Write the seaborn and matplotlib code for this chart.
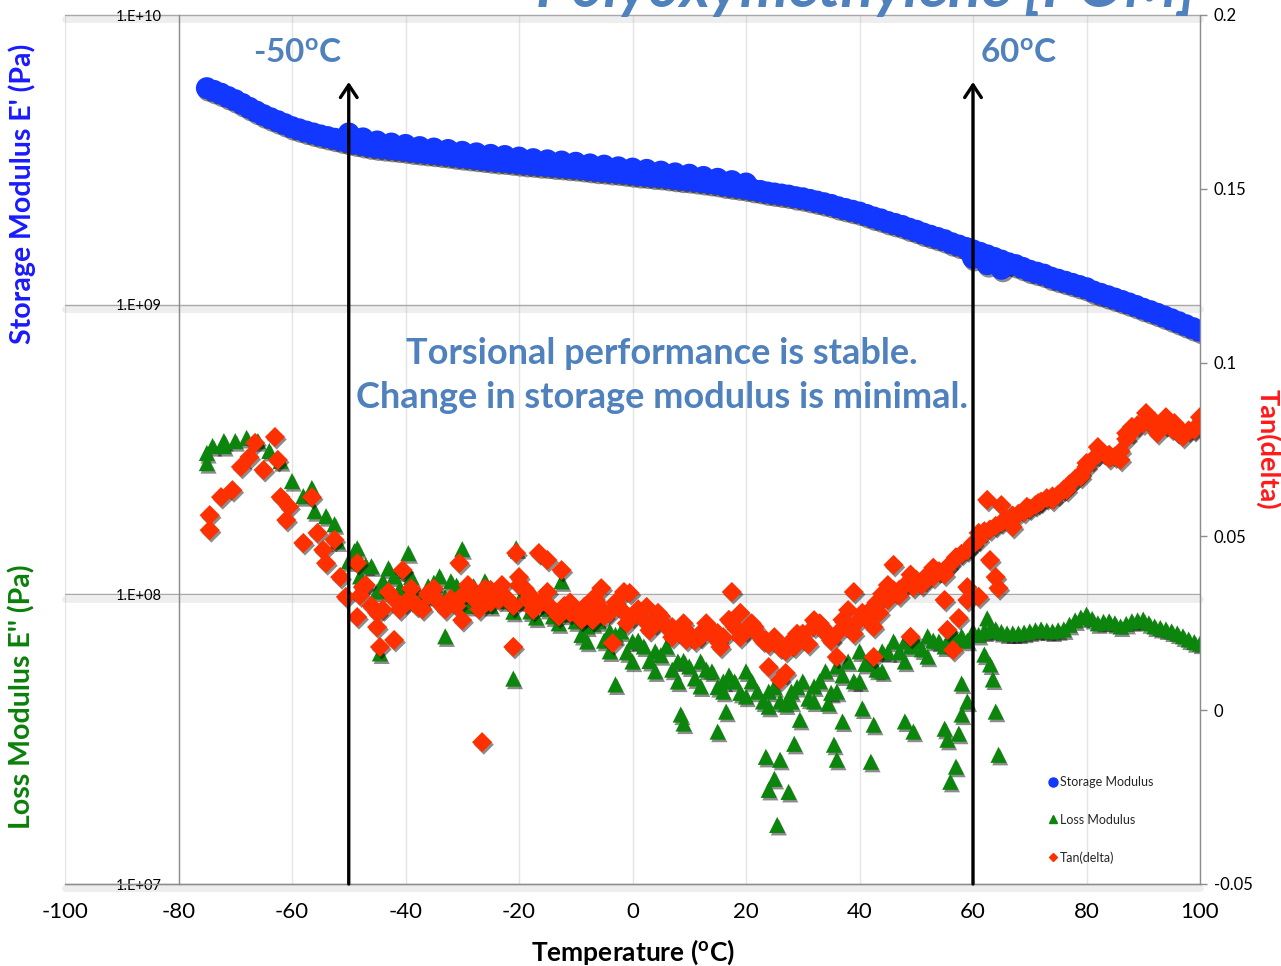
import matplotlib
matplotlib.use("Agg")
import numpy as np
import matplotlib.pyplot as plt
import matplotlib.patheffects as pe
from matplotlib.lines import Line2D
from matplotlib.ticker import NullLocator
import seaborn as sns

# ---------------- data ----------------
storage_temp = [-75, -72.5, -70, -67.5, -65, -62.5, -60, -57.5, -55, -52.5,
                -50, -47.5, -45, -42.5, -40, -37.5, -35, -32.5, -30, -27.5,
                -25, -22.5, -20, -17.5, -15, -12.5, -10, -7.5, -5, -2.5,
                0, 2.5, 5, 7.5, 10, 12.5, 15, 17.5, 20, 22.5,
                25, 27.5, 30, 32.5, 35, 37.5, 40, 42.5, 45, 47.5,
                50, 52.5, 55, 57.5, 60, 62.5, 65, 67.5, 70, 72.5,
                75, 77.5, 80, 82.5, 85, 87.5, 90, 92.5, 95, 97.5,
                100,
                -73.75, -71.25, -68.75, -66.25, -63.75, -61.25, -58.75, -56.25, -53.75, -51.25,
                -48.75, -46.25, -43.75, -41.25, -38.75, -36.25, -33.75, -31.25, -28.75, -26.25,
                -23.75, -21.25, -18.75, -16.25, -13.75, -11.25, -8.75, -6.25, -3.75, -1.25,
                1.25, 3.75, 6.25, 8.75, 11.25, 13.75, 16.25, 18.75, 21.25, 23.75,
                26.25, 28.75, 31.25, 33.75, 36.25, 38.75, 41.25, 43.75, 46.25, 48.75,
                51.25, 53.75, 56.25, 58.75, 61.25, 63.75, 66.25, 68.75, 71.25, 73.75,
                76.25, 78.75, 81.25, 83.75, 86.25, 88.75, 91.25, 93.75, 96.25, 98.75,
                -50, -47.5, -45, -42.5, -40, -37.5, -35, -32.5, -30, -27.5,
                -25, -22.5, -20, -17.5, -15, -12.5, -10, -7.5, -5, -2.5,
                0, 2.5, 5, 7.5, 10, 12.5, 15, 17.5, 20,
                60, 62.5, 65]
storage_gpa = [5.59, 5.35, 5.08, 4.78, 4.51, 4.30, 4.10, 3.96, 3.84, 3.74,
               3.64, 3.56, 3.49, 3.45, 3.41, 3.36, 3.32, 3.28, 3.23, 3.19,
               3.15, 3.12, 3.08, 3.05, 3.02, 2.99, 2.96, 2.92, 2.89, 2.86,
               2.82, 2.79, 2.76, 2.72, 2.69, 2.65, 2.61, 2.56, 2.52, 2.47,
               2.42, 2.38, 2.33, 2.27, 2.21, 2.14, 2.08, 2.00, 1.93, 1.87,
               1.80, 1.73, 1.67, 1.60, 1.54, 1.48, 1.42, 1.37, 1.31, 1.27,
               1.22, 1.18, 1.14, 1.09, 1.05, 1.01, 0.968, 0.93, 0.89, 0.85,
               0.813,
               5.47, 5.21, 4.93, 4.64, 4.40, 4.20, 4.03, 3.90, 3.79, 3.69,
               3.60, 3.52, 3.47, 3.43, 3.38, 3.34, 3.30, 3.25, 3.21, 3.17,
               3.13, 3.10, 3.06, 3.03, 3.00, 2.97, 2.94, 2.90, 2.87, 2.84,
               2.80, 2.77, 2.74, 2.70, 2.67, 2.63, 2.58, 2.54, 2.49, 2.44,
               2.40, 2.35, 2.30, 2.24, 2.17, 2.11, 2.04, 1.97, 1.90, 1.83,
               1.76, 1.70, 1.63, 1.57, 1.51, 1.45, 1.39, 1.34, 1.29, 1.24,
               1.20, 1.16, 1.11, 1.07, 1.03, 0.99, 0.95, 0.91, 0.87, 0.83,
               3.90, 3.75, 3.66, 3.60, 3.56, 3.50, 3.46, 3.42, 3.37, 3.33,
               3.29, 3.26, 3.22, 3.18, 3.15, 3.12, 3.09, 3.05, 3.02, 2.98,
               2.95, 2.92, 2.88, 2.84, 2.81, 2.76, 2.72, 2.67, 2.62,
               1.45, 1.38, 1.33]

loss_temp = [-75, -75, -74, -72, -72, -70, -68, -66, -64, -62,
             -60, -58, -56, -54, -52, -50, -49, -48, -46, -44,
             -42, -40, -38, -36, -34, -32, -30, -28, -26, -24,
             -22, -20, -18, -16, -14, -12, -10, -8, -6, -4,
             -2, 0, 2, 4, 6, 8, 10, 12, 14, 16,
             18, 20, 22, 24, 26, 28, 30, 32, 34, 36,
             38, 40, 42, 44, 46, 48, 50, 52, 54, 56,
             58, 60, 62, 64, 66, 68, 70, 72, 74, 76,
             78, 80, 82, 84, 86, 88, 90, 92, 94, 96,
             98, 100,
             -8, -4, 0, 4, 8, 12, 16, 20, 24, 28, 32, 36, 40, 44, 48, 52,
             -47, -45, -43, -41, -39, -37, -35, -33, -31, -29,
             -27, -25, -23, -21, -19, -17, -15, -13, -11, -9,
             -7, -5, -3, -1, 1, 3, 5, 7, 9, 11,
             13, 15, 17, 19, 21, 23, 25, 27, 29, 31,
             33, 35, 37, 39, 41, 43, 45, 47, 49, 51,
             53, 55, 57, 59, 61,
             63, 65, 67, 69, 71, 73, 75, 77, 79, 81,
             83, 85, 87, 89, 91, 93, 95, 97, 99,
             -44.5, -21, -33, -39.5, -30, -20.5, -48.5, -52.5, -56.5, -12.5,
             -3, 8.5, 9, 15, 16.5, 23.5, 25, 26, 27.5, 25.5,
             24, 28.5, 29.5, 34.5, 35.5, 36, 37, 40.5, 42, 42.5,
             48, 49.5, 55, 55.5, 57.5, 57, 56, 58, 59, 62.5,
             63, 63.5, 64, 64.5, 62, 58]
loss_log10_pa = [8.488, 8.453, 8.512, 8.512, 8.529, 8.529, 8.540, 8.529, 8.495, 8.460,
                 8.391, 8.339, 8.287, 8.270, 8.183, 8.114, 8.149, 8.062, 8.097, 8.045,
                 8.062, 8.080, 8.010, 8.028, 8.062, 8.045, 7.976, 8.028, 8.045, 8.010,
                 7.976, 7.976, 7.941, 7.976, 7.924, 7.941, 7.907, 7.889, 7.907, 7.872,
                 7.872, 7.837, 7.820, 7.803, 7.820, 7.768, 7.751, 7.768, 7.734, 7.699,
                 7.699, 7.734, 7.664, 7.664, 7.630, 7.664, 7.699, 7.682, 7.734, 7.751,
                 7.768, 7.803, 7.768, 7.803, 7.837, 7.837, 7.837, 7.855, 7.837, 7.855,
                 7.855, 7.872, 7.872, 7.879, 7.865, 7.865, 7.872, 7.879, 7.872, 7.879,
                 7.910, 7.930, 7.900, 7.907, 7.889, 7.907, 7.913, 7.889, 7.879, 7.865,
                 7.844, 7.830,
                 7.837, 7.803, 7.768, 7.734, 7.699, 7.682, 7.664, 7.647, 7.612, 7.630,
                 7.630, 7.664, 7.699, 7.734, 7.768, 7.785,
                 8.10, 8.01, 8.09, 8.02, 8.06, 7.98, 8.04, 7.99, 8.03, 7.96,
                 8.00, 7.96, 8.02, 7.94, 7.98, 7.92, 7.95, 7.90, 7.93, 7.86,
                 7.90, 7.84, 7.86, 7.80, 7.84, 7.77, 7.79, 7.74, 7.77, 7.71,
                 7.74, 7.68, 7.72, 7.66, 7.70, 7.63, 7.68, 7.62, 7.68, 7.64,
                 7.70, 7.66, 7.72, 7.70, 7.76, 7.74, 7.80, 7.80, 7.82, 7.81,
                 7.84, 7.82, 7.85, 7.84, 7.86,
                 7.875, 7.870, 7.865, 7.868, 7.876, 7.875, 7.876, 7.895, 7.920, 7.915,
                 7.905, 7.900, 7.898, 7.910, 7.900, 7.884, 7.872, 7.855, 7.835,
                 7.796, 7.709, 7.855, 8.142, 8.156, 8.159, 8.159, 8.242, 8.367, 8.045,
                 7.689, 7.585, 7.554, 7.526, 7.595, 7.439, 7.363, 7.429, 7.318, 7.204,
                 7.325, 7.484, 7.567, 7.623, 7.481, 7.429, 7.561, 7.606, 7.422, 7.550,
                 7.561, 7.526, 7.536, 7.498, 7.519, 7.405, 7.353, 7.585, 7.630, 7.917,
                 7.758, 7.706, 7.595, 7.446, 7.792, 7.692]

tan_temp = [-74.5, -74.5, -72.5, -70.5, -69, -67.5, -66.5, -65, -63, -62.5,
            -62, -60.5, -61, -58, -56.5, -55.5, -54.5, -54, -52.5, -51.5,
            -50.5, -48.5, -47.5, -48.5, -45, -44.5, -42, -40.5, -39, -36,
            -34.5, -30.5, -30, -26.5, -27.5, -25, -23.5, -21, -20.5, -20,
            -18.5, -16.5, -15, -12.5, -17.5, -14.5, -11, -8.5, -6.5, -8.5,
            -5.5, -1.5, -0.5, -7, -3.5, 2.5, 4.5, 7, 9.5, 12,
            15, 15.5, 17.5, 19, 21.5, 23.5, 24, 26, 27, 28.5,
            32, 34, 36, 38, 39, 40.5, 42.5, 42.5, 43.5, 45,
            46, 47, 49, 49.5, 51.5, 53, 55, 55.5, 55.5, 56.5,
            57.5, 59, 59.5, 61, 62.5, 65, 63, 64, 64.5, 59,
            61, 67, 69.5, 71.5, 74, 76.5, 79, 80, 82, 84,
            86, 87, 88, 90.5, 92.5, 94, 95.5, 97, 99, 100,
            -48, -46, -44, -42, -40, -38, -36, -34, -32, -30,
            -28, -26, -24, -22, -20, -18, -16, -14, -12, -10,
            -8, -6, -4, -2, 0, 2, 4, 6, 8, 10,
            12, 14, 16, 18, 20, 22, 24, 26, 28, 30,
            32, 34, 36, 38, 40, 42, 44, 46, 48, 50,
            52, 54, 56, 58, 60, 61, 63, 65, 67, 69,
            71, 73, 75, 77, 79, 81, 83, 85, 87, 89,
            91, 93, 95, 97, 99,
            -47, -45, -43, -41, -39, -37, -35, -33, -31, -29,
            -27, -25, -23, -21, -19, -17, -15, -13, -11, -9,
            -7, -5, -3, -1, 1, 3, 5, 7, 9, 11,
            13, 15, 17, 19, 21, 23, 25, 27, 29, 31,
            33, 35, 37, 39, 41, 43, 45, 47, 49, 51,
            53, 55, 57, 59,
            62, 64, 66, 68, 70, 72, 74, 76, 78, 80,
            82, 84, 86, 88, 90, 92, 94, 96, 98]
tan_delta = [0.0518, 0.0561, 0.0613, 0.0633, 0.0700, 0.0728, 0.0769, 0.0691, 0.0786, 0.0720,
             0.0613, 0.0585, 0.0547, 0.0481, 0.0613, 0.0510, 0.0461, 0.0423, 0.0490, 0.0383,
             0.0326, 0.0423, 0.0354, 0.0268, 0.0239, 0.0182, 0.0202, 0.0403, 0.0317, 0.0337,
             0.0317, 0.0423, 0.0259, -0.0092, 0.0326, 0.0346, 0.0317, 0.0182, 0.0452, 0.0383,
             0.0317, 0.0452, 0.0432, 0.0403, 0.0288, 0.0297, 0.0280, 0.0268, 0.0317, 0.0297,
             0.0351, 0.0340, 0.0337, 0.0259, 0.0193, 0.0297, 0.0280, 0.0239, 0.0202, 0.0222,
             0.0222, 0.0182, 0.0340, 0.0280, 0.0239, 0.0202, 0.0124, 0.0087, 0.0107, 0.0182,
             0.0259, 0.0222, 0.0153, 0.0288, 0.0340, 0.0280, 0.0239, 0.0153, 0.0280, 0.0317,
             0.0418, 0.0346, 0.0211, 0.0354, 0.0374, 0.0383, 0.0317, 0.0412, 0.0231, 0.0173,
             0.0265, 0.0354, 0.0469, 0.0490, 0.0605, 0.0590, 0.0432, 0.0383, 0.0351, 0.0317,
             0.0326, 0.0527, 0.0585, 0.0596, 0.0605, 0.0633, 0.0671, 0.0711, 0.0757, 0.0725,
             0.0720, 0.0797, 0.0815, 0.0855, 0.0797, 0.0843, 0.0826, 0.0786, 0.0806, 0.0843,
             0.033, 0.030, 0.029, 0.032, 0.031, 0.030, 0.033, 0.031, 0.032, 0.033,
             0.032, 0.035, 0.033, 0.032, 0.036, 0.033, 0.031, 0.029, 0.030, 0.028,
             0.029, 0.030, 0.028, 0.029, 0.027, 0.026, 0.025, 0.024, 0.023, 0.022,
             0.021, 0.023, 0.021, 0.024, 0.023, 0.022, 0.019, 0.018, 0.020, 0.022,
             0.024, 0.023, 0.022, 0.024, 0.026, 0.029, 0.0335, 0.0345, 0.036, 0.0375,
             0.039, 0.040, 0.042, 0.045, 0.048, 0.051, 0.052, 0.054, 0.056, 0.057,
             0.059, 0.061, 0.062, 0.065, 0.068, 0.072, 0.074, 0.073, 0.078, 0.082,
             0.083, 0.082, 0.081, 0.080, 0.081,
             0.036, 0.028, 0.034, 0.029, 0.035, 0.029, 0.035, 0.029, 0.030, 0.036,
             0.029, 0.031, 0.036, 0.030, 0.035, 0.031, 0.034, 0.027, 0.031, 0.026,
             0.032, 0.027, 0.031, 0.025, 0.029, 0.023, 0.027, 0.021, 0.025, 0.020,
             0.025, 0.020, 0.026, 0.021, 0.025, 0.020, 0.021, 0.017, 0.022, 0.019,
             0.025, 0.020, 0.026, 0.022, 0.027, 0.031, 0.036, 0.033, 0.039, 0.036,
             0.041, 0.039, 0.044, 0.046,
             0.0515, 0.0530, 0.0550, 0.0565, 0.0580, 0.0600, 0.0615, 0.0635, 0.0665, 0.0700,
             0.0735, 0.0735, 0.0745, 0.0800, 0.0825, 0.0830, 0.0820, 0.0800, 0.0805]

x_ticks = [-100, -80, -60, -40, -20, 0, 20, 40, 60, 80, 100]
left_ticks = [1e7, 1e8, 1e9, 1e10]
left_tick_labels = ["1.E+07", "1.E+08", "1.E+09", "1.E+10"]
right_ticks = [-0.05, 0, 0.05, 0.1, 0.15, 0.2]
right_tick_labels = ["-0.05", "0", "0.05", "0.1", "0.15", "0.2"]
marker_temps = [-50, 60]
marker_labels = [r"-50$\mathbf{^o}$C", r"60$\mathbf{^o}$C"]
series_names = ["Storage Modulus", "Loss Modulus", "Tan(delta)"]

storage_pa = np.array(storage_gpa) * 1e9
loss_pa = np.power(10.0, np.array(loss_log10_pa))

# ---------------- style ----------------
sns.set_theme(style="white")
plt.rcParams["font.family"] = ["Lato", "DejaVu Sans"]
plt.rcParams["mathtext.fontset"] = "custom"
plt.rcParams["mathtext.rm"] = "Lato"
plt.rcParams["mathtext.it"] = "Lato:italic"
plt.rcParams["mathtext.bf"] = "Lato:bold"

BLUE = "#1238ff"
GREEN = "#0b850b"
RED = "#ff3000"
TXT_BLUE = "#4f81bd"
AX_GRAY = "#8c8c8c"

W, H = 1281, 966
fig = plt.figure(figsize=(W / 100, H / 100), dpi=100)
fig.patch.set_facecolor("white")
L, R, T, B = 65, 1200, 15, 884
ax = fig.add_axes([L / W, 1 - B / H, (R - L) / W, (B - T) / H])
ax.set_facecolor("white")

shadow = [pe.SimplePatchShadow(offset=(1.2, -1.8), shadow_rgbFace="black", alpha=0.45), pe.Normal()]

sns.scatterplot(x=storage_temp, y=storage_pa, ax=ax, marker="o", color=BLUE, s=250,
                linewidth=0, edgecolor="none", zorder=3, legend=False)
ax.collections[-1].set_path_effects(shadow)
sns.scatterplot(x=loss_temp, y=loss_pa, ax=ax, marker="^", color=GREEN, s=135,
                linewidth=0, edgecolor="none", zorder=3, legend=False)
ax.collections[-1].set_path_effects(shadow)

ax.set_yscale("log")
ax.set_xlim(-100, 100)
ax.set_ylim(1e7, 1e10)
ax.set_xticks(x_ticks)
ax.set_xticklabels([str(v) for v in x_ticks])
ax.set_yticks(left_ticks)
ax.set_yticklabels(left_tick_labels)
ax.yaxis.set_minor_locator(NullLocator())

for s in ["top", "right"]:
    ax.spines[s].set_visible(False)
ax.spines["left"].set_position(("data", -80))
ax.spines["left"].set_color(AX_GRAY)
ax.spines["bottom"].set_color(AX_GRAY)
ax.spines["left"].set_linewidth(1.0)
ax.spines["bottom"].set_linewidth(1.0)

ax.tick_params(axis="x", direction="out", length=7, width=1, color=AX_GRAY,
               labelsize=16, pad=6, labelcolor="black")
ax.tick_params(axis="y", length=0, labelsize=10.5, pad=12, labelcolor="black")

ax.xaxis.grid(True, color="#e4e4e4", lw=1.0)
ax.yaxis.grid(True, color="#a8a8a8", lw=1.0)
ax.set_axisbelow(True)
for gl in ax.yaxis.get_gridlines():
    gl.set_path_effects([pe.SimpleLineShadow(offset=(0, -3), shadow_color="#b4b4b4", alpha=0.22, linewidth=5),
                         pe.Normal()])
    gl.set_clip_on(False)

ax.set_xlabel(r"Temperature ($\mathbf{^o}$C)", fontsize=19, fontweight="bold", color="black")
ax.xaxis.set_label_coords(0.5, -0.062)
ax.set_ylabel("")

# secondary axis: tan(delta)
ax2 = ax.twinx()
sns.scatterplot(x=tan_temp, y=tan_delta, ax=ax2, marker="D", color=RED, s=105,
                linewidth=0, edgecolor="none", zorder=4, legend=False)
ax2.collections[-1].set_path_effects(shadow)
ax2.set_ylim(-0.05, 0.2)
ax2.set_yticks(right_ticks)
ax2.set_yticklabels(right_tick_labels)
for s in ["top", "left", "bottom"]:
    ax2.spines[s].set_visible(False)
ax2.spines["right"].set_color(AX_GRAY)
ax2.spines["right"].set_linewidth(1.0)
ax2.tick_params(axis="y", direction="out", length=5, width=1, color=AX_GRAY,
                labelsize=12, pad=5, labelcolor="black")
ax2.grid(False)
ax2.set_ylabel("Tan(delta)", rotation=270, fontsize=19.5, fontweight="bold", color="#ff1a1a")
ax2.yaxis.set_label_coords(1.0 + (1268 - R) / (R - L), 0.5)
ax2.yaxis.label.set_va("center")

# arrows marking the temperature window
for t in marker_temps:
    ax2.annotate("", xy=(t, (B - 82) / (B - T)), xytext=(t, 0.0),
                 xycoords=("data", "axes fraction"), textcoords=("data", "axes fraction"),
                 arrowprops=dict(arrowstyle="->,head_length=0.45,head_width=0.3", lw=2.4,
                                 color="black", shrinkA=0, shrinkB=0, mutation_scale=20),
                 zorder=10)

fig.text(298 / W, 1 - 52 / H, marker_labels[0], fontsize=24, fontweight="bold",
         color=TXT_BLUE, ha="center", va="center")
fig.text(1018 / W, 1 - 52 / H, marker_labels[1], fontsize=24, fontweight="bold",
         color=TXT_BLUE, ha="center", va="center")
fig.text(662 / W, 1 - 353 / H, "Torsional performance is stable.", fontsize=26,
         fontweight="bold", color=TXT_BLUE, ha="center", va="center", zorder=12)
fig.text(662 / W, 1 - 398 / H, "Change in storage modulus is minimal.", fontsize=26,
         fontweight="bold", color=TXT_BLUE, ha="center", va="center", zorder=12)

# title (cut off at the top edge as in the reference)
fig.text(1196 / W, 1 - 7 / H, "Polyoxymethylene [POM]", fontsize=44, fontweight="bold",
         fontstyle="italic", color=TXT_BLUE, ha="right", va="baseline")

# left axis titles
fig.text(22 / W, 1 - 194 / H, "Storage Modulus E' (Pa)", rotation=90, fontsize=20.5,
         fontweight="bold", color="#1a1aff", ha="center", va="center")
fig.text(22 / W, 1 - 697 / H, "Loss Modulus E'' (Pa)", rotation=90, fontsize=20.5,
         fontweight="bold", color="#0a800a", ha="center", va="center")

# legend
handles = [Line2D([], [], ls="", marker="o", color=BLUE, markersize=6.5),
           Line2D([], [], ls="", marker="^", color=GREEN, markersize=6),
           Line2D([], [], ls="", marker="D", color=RED, markersize=4.5)]
fig.legend(handles, series_names, loc="upper left", bbox_to_anchor=(1049 / W, 1 - 776 / H),
           frameon=False, fontsize=9, handlelength=0.6, handletextpad=0.3,
           labelspacing=2.05, borderpad=0, borderaxespad=0)

fig.savefig("out.png", dpi=100, facecolor="white")
